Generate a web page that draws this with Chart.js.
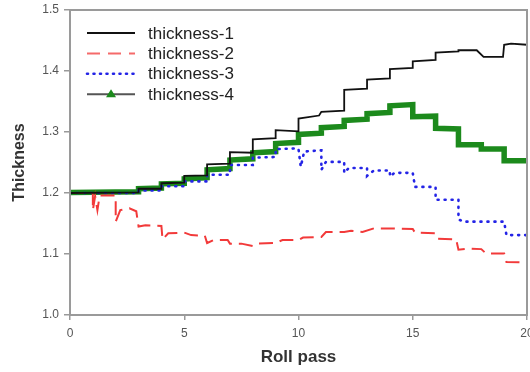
<!DOCTYPE html>
<html>
<head>
<meta charset="UTF-8">
<title>Thickness vs roll pass</title>
<script src="https://cdn.jsdelivr.net/npm/chart.js"></script>
<style>
    body, html { margin: 0; padding: 0; background: #fff; }
    #wrap { width: 530px; height: 372px; }
</style>
</head>
<body>
<div id="wrap"><canvas id="thickChart" width="530" height="372"></canvas></div>
<script>
// series names
const seriesNames = ['thickness-1', 'thickness-2', 'thickness-3', 'thickness-4'];

// thickness-1 (roll pass, thickness)
const t1Pass = [0, 3, 3, 4, 4, 5, 5, 6, 6, 7, 7, 8, 8, 9, 9, 10, 10, 10.9, 11, 12, 12, 13, 13, 14, 14, 15, 15, 16, 16, 17, 17, 17.8, 18.1, 18.95, 19, 19.3, 20];
const t1Val  = [1.200, 1.201, 1.207, 1.207, 1.216, 1.217, 1.228, 1.229, 1.247, 1.248, 1.267, 1.266, 1.288, 1.290, 1.303, 1.301, 1.322, 1.327, 1.333, 1.335, 1.369, 1.371, 1.386, 1.388, 1.403, 1.405, 1.416, 1.418, 1.430, 1.432, 1.434, 1.434, 1.423, 1.423, 1.443, 1.445, 1.443];

// thickness-2
const t2Pass = [0, 1.0, 1.0, 1.1, 1.2, 1.3, 2.0, 2.0, 2.2, 2.6, 2.9, 3.0, 3.3, 4.0, 4.05, 4.3, 5.0, 5.3, 5.9, 6.0, 6.3, 6.9, 7.0, 7.5, 8.0, 8.2, 9.0, 9.3, 10.0, 10.2, 11.0, 11.2, 12.0, 12.3, 12.8, 13.3, 14.2, 15.0, 15.1, 16.0, 16.1, 16.9, 17.0, 17.4, 18.0, 18.2, 19.0, 19.1, 20];
const t2Val  = [1.200, 1.200, 1.172, 1.195, 1.172, 1.196, 1.196, 1.153, 1.172, 1.175, 1.170, 1.145, 1.147, 1.146, 1.124, 1.134, 1.135, 1.131, 1.130, 1.118, 1.123, 1.123, 1.117, 1.117, 1.113, 1.117, 1.118, 1.123, 1.123, 1.127, 1.128, 1.136, 1.136, 1.138, 1.136, 1.142, 1.142, 1.141, 1.135, 1.134, 1.125, 1.124, 1.107, 1.109, 1.108, 1.101, 1.101, 1.087, 1.086];

// thickness-3
const t3Pass = [0, 3, 3, 4, 4, 5, 5, 6, 6, 7, 7, 8, 8, 9, 9, 9.9, 10, 10.1, 10.25, 11, 11, 11.2, 12, 12, 12.2, 13, 13, 13.3, 14, 14, 14.2, 15, 15.1, 16, 16, 17, 17, 17.2, 19, 19.1, 20];
const t3Val  = [1.200, 1.200, 1.204, 1.204, 1.211, 1.211, 1.219, 1.219, 1.230, 1.230, 1.246, 1.246, 1.258, 1.259, 1.272, 1.273, 1.272, 1.243, 1.268, 1.270, 1.238, 1.251, 1.251, 1.233, 1.241, 1.241, 1.228, 1.237, 1.237, 1.227, 1.233, 1.233, 1.210, 1.210, 1.189, 1.189, 1.157, 1.153, 1.153, 1.131, 1.131];

// thickness-4
const t4Pass = [0, 3, 3, 4, 4, 5, 5, 6, 6, 7, 7, 8, 8, 9, 9, 10, 10, 11, 11, 12, 12, 13, 13, 14, 14, 15, 15, 16, 16, 17, 17, 18, 18, 19, 19, 20];
const t4Val  = [1.201, 1.202, 1.207, 1.208, 1.215, 1.216, 1.223, 1.225, 1.238, 1.240, 1.254, 1.256, 1.266, 1.268, 1.281, 1.283, 1.296, 1.298, 1.307, 1.309, 1.319, 1.321, 1.330, 1.332, 1.343, 1.345, 1.325, 1.326, 1.306, 1.305, 1.279, 1.279, 1.272, 1.272, 1.253, 1.253];

// axis ticks
const xTicks = [0, 5, 10, 15, 20];
const yTicks = [1.0, 1.1, 1.2, 1.3, 1.4, 1.5];

function toPoints(xs, ys) {
    return xs.map((x, i) => ({ x: x, y: ys[i] }));
}

// legend drawn by hand so it can show line + marker like the original
const legendPlugin = {
    id: 'handLegend',
    afterDraw(chart) {
        const ctx = chart.ctx;
        ctx.save();
        chart.data.datasets.forEach((ds, i) => {
            const y = 33 + i * 20.4;
            ctx.beginPath();
            ctx.setLineDash(ds.legendDash || []);
            ctx.lineCap = ds.borderCapStyle || 'butt';
            ctx.strokeStyle = ds.legendColor || ds.borderColor;
            ctx.lineWidth = ds.legendWidth || 2;
            ctx.moveTo(87, y);
            ctx.lineTo(135, y);
            ctx.stroke();
            ctx.setLineDash([]);
            if (ds.legendMarker) {
                ctx.fillStyle = ds.borderColor;
                ctx.beginPath();
                ctx.moveTo(111, y - 5);
                ctx.lineTo(116, y + 3);
                ctx.lineTo(106, y + 3);
                ctx.closePath();
                ctx.fill();
            }
            ctx.fillStyle = '#222';
            ctx.font = '17px Arial, "Liberation Sans", sans-serif';
            ctx.textBaseline = 'middle';
            ctx.fillText(ds.label, 148, y + 1);
        });
        ctx.restore();
    }
};

// grey frame round the plot area (top and right sides)
const framePlugin = {
    id: 'frame',
    afterDraw(chart) {
        const a = chart.chartArea;
        const ctx = chart.ctx;
        ctx.save();
        ctx.strokeStyle = '#9a9a9a';
        ctx.lineWidth = 2;
        ctx.strokeRect(a.left, a.top, a.right - a.left, a.bottom - a.top);
        ctx.restore();
    }
};

const ctx = document.getElementById('thickChart').getContext('2d');
const chart = new Chart(ctx, {
    type: 'line',
    data: {
        datasets: [
            {
                label: seriesNames[0],
                data: toPoints(t1Pass, t1Val),
                borderColor: '#111',
                borderWidth: 1.8,
                legendWidth: 2
            },
            {
                label: seriesNames[1],
                data: toPoints(t2Pass, t2Val),
                borderColor: '#f23a3a',
                borderWidth: 2,
                borderDash: [14, 7],
                legendDash: [13, 8],
                legendColor: '#f56a6a'
            },
            {
                label: seriesNames[2],
                data: toPoints(t3Pass, t3Val),
                borderColor: '#2424e6',
                borderWidth: 2.6,
                borderDash: [1, 6],
                borderCapStyle: 'round',
                legendDash: [1, 5.5],
                legendWidth: 2.6
            },
            {
                label: seriesNames[3],
                data: toPoints(t4Pass, t4Val),
                borderColor: '#1c8a1c',
                borderWidth: 5.5,
                legendColor: '#555',
                legendWidth: 2,
                legendMarker: true
            }
        ]
    },
    options: {
        responsive: false,
        animation: false,
        layout: { padding: { top: 10, right: 3, left: 0, bottom: 0 } },
        elements: {
            point: { radius: 0 },
            line: { tension: 0 }
        },
        plugins: {
            legend: { display: false },
            tooltip: { enabled: false }
        },
        scales: {
            x: {
                type: 'linear',
                min: 0,
                max: 20,
                afterBuildTicks: (s) => { s.ticks = xTicks.map(v => ({ value: v })); },
                afterFit: (s) => { s.height = 57; s.paddingLeft = 0; s.paddingRight = 0; },
                ticks: {
                    color: '#555',
                    font: { family: 'Arial, "Liberation Sans", sans-serif', size: 12 },
                    padding: 6,
                    maxRotation: 0
                },
                grid: { drawOnChartArea: false, color: '#999', tickLength: 5, lineWidth: 1.5 },
                border: { color: '#9a9a9a', width: 2 },
                title: {
                    display: true,
                    text: 'Roll pass',
                    color: '#333',
                    font: { family: 'Arial, "Liberation Sans", sans-serif', size: 17, weight: 'bold' },
                    padding: { top: 8 }
                }
            },
            y: {
                min: 1.0,
                max: 1.5,
                afterBuildTicks: (s) => { s.ticks = yTicks.map(v => ({ value: v })); },
                afterFit: (s) => { s.width = 70; s.paddingTop = 0; s.paddingBottom = 0; },
                ticks: {
                    color: '#555',
                    font: { family: 'Arial, "Liberation Sans", sans-serif', size: 12 },
                    padding: 5,
                    callback: (v) => Number(v).toFixed(1)
                },
                grid: { drawOnChartArea: false, color: '#999', tickLength: 6, lineWidth: 1.5 },
                border: { color: '#9a9a9a', width: 2 },
                title: {
                    display: true,
                    text: 'Thickness',
                    color: '#333',
                    font: { family: 'Arial, "Liberation Sans", sans-serif', size: 16, weight: 'bold' },
                    padding: { top: 10 }
                }
            }
        }
    },
    plugins: [legendPlugin, framePlugin]
});
</script>
</body>
</html>
